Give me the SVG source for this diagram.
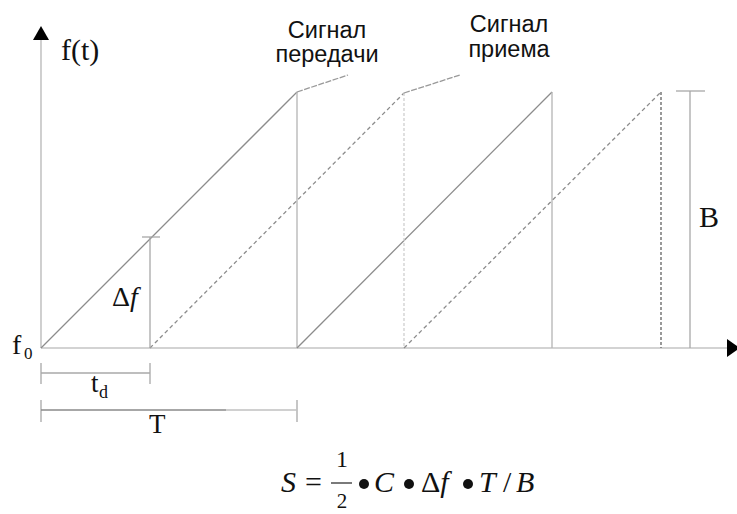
<svg xmlns="http://www.w3.org/2000/svg" width="737" height="514" viewBox="0 0 737 514">
<style>
.axis{stroke:#c4c4c4;stroke-width:1.6;fill:none}
.tx{stroke:#8c8c8c;stroke-width:1.3;fill:none}
.vert{stroke:#b4b4b4;stroke-width:1.3;fill:none}
.rx{stroke:#8c8c8c;stroke-width:1.3;fill:none;stroke-dasharray:4 3}
.dim{stroke:#a8a8a8;stroke-width:1.3;fill:none}
.ser{font-family:"Liberation Serif","Times New Roman",serif;fill:#111}
.it{font-style:italic}
.sans{font-family:"Liberation Sans",Arial,sans-serif;fill:#111;font-size:23.5px;text-anchor:middle}
</style>
<rect width="737" height="514" fill="#fff"/>
<g id="axes">
<line class="axis" x1="41" y1="348" x2="41" y2="38"/>
<polygon points="41,26 33,40 49,40" fill="#000"/>
<line class="axis" x1="41" y1="348" x2="728" y2="348"/>
<polygon points="727,339 740,348 727,357" fill="#000"/>
<text class="ser" x="61" y="60" font-size="30">f(t)</text>
<text class="ser" x="12" y="354" font-size="28">f</text>
<text class="ser" x="24" y="359" font-size="17">0</text>
</g>
<g id="transmit-signal">
<polyline class="tx" points="41,348 297,92"/>
<line class="vert" x1="297" y1="92" x2="297" y2="348"/>
<polyline class="tx" points="297,348 552,92"/>
<line class="vert" x1="552" y1="92" x2="552" y2="348"/>
</g>
<g id="receive-signal">
<line class="rx" x1="150" y1="348" x2="404" y2="93"/>
<line x1="404" y1="93" x2="404" y2="348" stroke="#cfcfcf" stroke-width="1.3" stroke-dasharray="3 2"/>
<line class="rx" x1="404" y1="348" x2="661" y2="92"/>
<line x1="661" y1="92" x2="661" y2="348" stroke="#777" stroke-width="1.5" stroke-dasharray="3 2"/>
</g>
<g id="connectors">
<line x1="297" y1="92" x2="348" y2="75" stroke="#999" stroke-width="1.3" stroke-dasharray="6 1.5"/>
<line x1="404" y1="93" x2="460" y2="75" stroke="#999" stroke-width="1.3" stroke-dasharray="6 1.5"/>
</g>
<g id="label-transmit">
<text class="sans" x="327" y="38">Сигнал</text>
<text class="sans" x="327" y="62">передачи</text>
</g>
<g id="label-receive">
<text class="sans" x="509" y="32">Сигнал</text>
<text class="sans" x="509" y="57">приема</text>
</g>
<g id="delta-f">
<line class="dim" x1="150" y1="237" x2="150" y2="348"/>
<line class="dim" x1="142" y1="237" x2="160" y2="237"/>
<text class="ser" x="112" y="306" font-size="28">Δ<tspan class="it">f</tspan></text>
</g>
<g id="bandwidth-B">
<line class="dim" x1="690" y1="91" x2="690" y2="348"/>
<line class="dim" x1="676" y1="91" x2="705" y2="91"/>
<text class="ser" x="699" y="227" font-size="30">B</text>
</g>
<g id="td">
<line class="dim" x1="41" y1="363" x2="41" y2="384"/>
<line class="dim" x1="150" y1="363" x2="150" y2="384"/>
<line class="dim" x1="41" y1="373" x2="150" y2="373"/>
<text class="ser" x="91" y="392" font-size="27">t</text>
<text class="ser" x="99" y="398" font-size="18">d</text>
</g>
<g id="period-T">
<line class="dim" x1="41" y1="400" x2="41" y2="422"/>
<line class="dim" x1="297" y1="400" x2="297" y2="422"/>
<line x1="41" y1="410" x2="226" y2="410" stroke="#8a8a8a" stroke-width="1.3"/>
<line x1="226" y1="410" x2="297" y2="410" stroke="#c0c0c0" stroke-width="1.3"/>
<text class="ser" x="149" y="433" font-size="27">T</text>
</g>
<g id="formula">
<text class="ser it" x="281" y="492" font-size="30">S</text>
<text class="ser" x="305" y="492" font-size="30">=</text>
<text class="ser" x="342" y="467" font-size="24" text-anchor="middle">1</text>
<line x1="331" y1="483" x2="352" y2="483" stroke="#222" stroke-width="1.2"/>
<text class="ser" x="342" y="508" font-size="21" text-anchor="middle">2</text>
<circle cx="364" cy="484" r="5" fill="#111"/>
<text class="ser it" x="374" y="492" font-size="30">C</text>
<circle cx="409" cy="484" r="5" fill="#111"/>
<text class="ser" x="421" y="492" font-size="30">Δ<tspan class="it">f</tspan></text>
<circle cx="468" cy="484" r="5" fill="#111"/>
<text class="ser it" x="479" y="492" font-size="30">T</text>
<text class="ser" x="503" y="492" font-size="30">/</text>
<text class="ser it" x="516" y="492" font-size="30">B</text>
</g>
</svg>
